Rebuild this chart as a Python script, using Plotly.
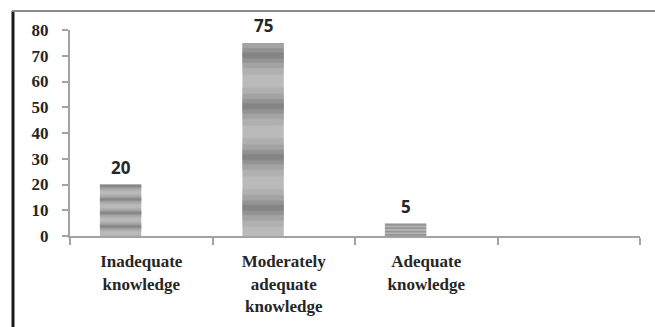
import plotly.graph_objects as go

# Knowledge level categories and the percentage of respondents in each
categories = [
    "Inadequate<br>knowledge",
    "Moderately<br>adequate<br>knowledge",
    "Adequate<br>knowledge",
    " ",
]
percentages = [20, 75, 5, None]
y_ticks = [0, 10, 20, 30, 40, 50, 60, 70, 80]

AXIS_GREY = "#a3a3a3"
TEXT = "#262626"
SERIF = "Liberation Serif"
SANS = "Open Sans, Liberation Sans, Arial, sans-serif"

BAR_WIDTH = 0.29
SLOT_PX = 570 / 4

# plot height in px per unit of value, used to scale the banding texture per bar
px_per_unit = 206 / 80
band_sizes = [max(3, (v or 0) * px_per_unit / 3.8) for v in percentages]

# stacked stripe layers give each band a soft light-to-dark shading
layers = [
    ("#a6a6a6", 0.75),
    ("#969696", 0.5),
    ("#838383", 0.28),
    ("#767676", 0.12),
]

fig = go.Figure()
fig.add_trace(go.Bar(
    x=categories, y=percentages, width=BAR_WIDTH, offset=-BAR_WIDTH,
    marker=dict(color="#bababa", line=dict(width=0)),
    hoverinfo="skip",
))
for fg, solidity in layers:
    fig.add_trace(go.Bar(
        x=categories, y=percentages, width=BAR_WIDTH, offset=-BAR_WIDTH,
        marker=dict(
            color="rgba(0,0,0,0)",
            line=dict(width=0),
            pattern=dict(
                shape="-",
                fgcolor=fg,
                size=band_sizes,
                solidity=solidity,
                fillmode="overlay",
            ),
        ),
        hoverinfo="skip",
    ))

# value labels above the bars (bars sit left of the category centre)
for cat, val in zip(categories, percentages):
    if val is None:
        continue
    fig.add_annotation(
        x=cat, y=val, text=f"<b>{val}</b>", showarrow=False,
        yanchor="middle", yshift=17, xshift=-BAR_WIDTH / 2 * SLOT_PX,
        font=dict(family=SANS, size=17, color=TEXT),
    )

# outer frame: heavy left edge and light top edge
fig.add_shape(type="line", xref="paper", yref="paper",
              x0=-0.1, x1=-0.1, y0=1.092, y1=-0.5,
              line=dict(color="#1a1a1a", width=3))
fig.add_shape(type="line", xref="paper", yref="paper",
              x0=-0.102, x1=1.1, y0=1.092, y1=1.092,
              line=dict(color="#8a8a8a", width=2))

fig.update_layout(
    width=655, height=327,
    margin=dict(l=70, r=15, t=30, b=91),
    paper_bgcolor="white", plot_bgcolor="white",
    showlegend=False,
    barmode="overlay",
    xaxis=dict(
        type="category",
        categoryorder="array", categoryarray=categories,
        range=[-0.5, 3.5],
        showline=True, linecolor=AXIS_GREY, linewidth=2,
        ticks="outside", tickson="boundaries", ticklen=7,
        tickcolor=AXIS_GREY, tickwidth=2,
        ticklabelstandoff=9,
        tickfont=dict(family=SERIF, size=17, color=TEXT, weight="bold"),
        showgrid=False, zeroline=False,
        fixedrange=True,
    ),
    yaxis=dict(
        range=[0, 80],
        tickvals=y_ticks,
        showline=True, linecolor=AXIS_GREY, linewidth=2,
        ticks="outside", ticklen=6, tickcolor=AXIS_GREY, tickwidth=2,
        ticklabelstandoff=10,
        tickfont=dict(family=SERIF, size=17, color=TEXT, weight="bold"),
        showgrid=False, zeroline=False,
        fixedrange=True,
    ),
)

fig.write_html("out.html")
